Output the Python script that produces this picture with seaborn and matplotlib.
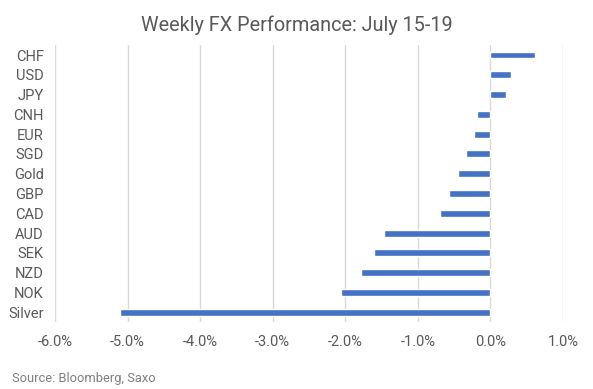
import pandas as pd
import seaborn as sns
import matplotlib.pyplot as plt
from matplotlib.ticker import FuncFormatter

# weekly performance, %
labels = ["CHF", "USD", "JPY", "CNH", "EUR", "SGD", "Gold", "GBP",
          "CAD", "AUD", "SEK", "NZD", "NOK", "Silver"]
change = [0.61, 0.29, 0.22, -0.18, -0.23, -0.33, -0.44, -0.57,
          -0.70, -1.46, -1.60, -1.78, -2.06, -5.10]
xticks = [-6, -5, -4, -3, -2, -1, 0, 1]

df = pd.DataFrame({"asset": labels, "change": change})

sns.set_style("white")
plt.rcParams['font.family'] = ['Roboto', 'DejaVu Sans']

fig = plt.figure(figsize=(5.93, 3.89), dpi=100)
ax = fig.add_axes([0.0927, 0.172, 0.8566, 0.712])

sns.barplot(data=df, x="change", y="asset", order=labels, color="#4472C4",
            width=0.35, saturation=1, ax=ax, zorder=3)

ax.set_xlim(-6, 1)
ax.set_ylim(13.5, -0.5)
ax.set_xticks(xticks)
ax.xaxis.set_major_formatter(FuncFormatter(lambda v, p: f"{v:.1f}%"))
ax.grid(axis="x", color="#d9d9d9", linewidth=1, zorder=0)
ax.grid(axis="y", visible=False)
for s in ax.spines.values():
    s.set_visible(False)
ax.tick_params(axis="both", length=0, labelsize=10.5, colors="#595959")
ax.tick_params(axis="x", pad=9)
ax.tick_params(axis="y", pad=8)
ax.set_xlabel("")
ax.set_ylabel("")

fig.text(0.5, 0.935, "Weekly FX Performance: July 15-19", ha="center",
         va="center", fontsize=14.3, color="#595959")
fig.text(0.02, 0.028, "Source: Bloomberg, Saxo", ha="left", va="center",
         fontsize=9.3, color="#7f7f7f")

fig.savefig("out.png", dpi=100)
